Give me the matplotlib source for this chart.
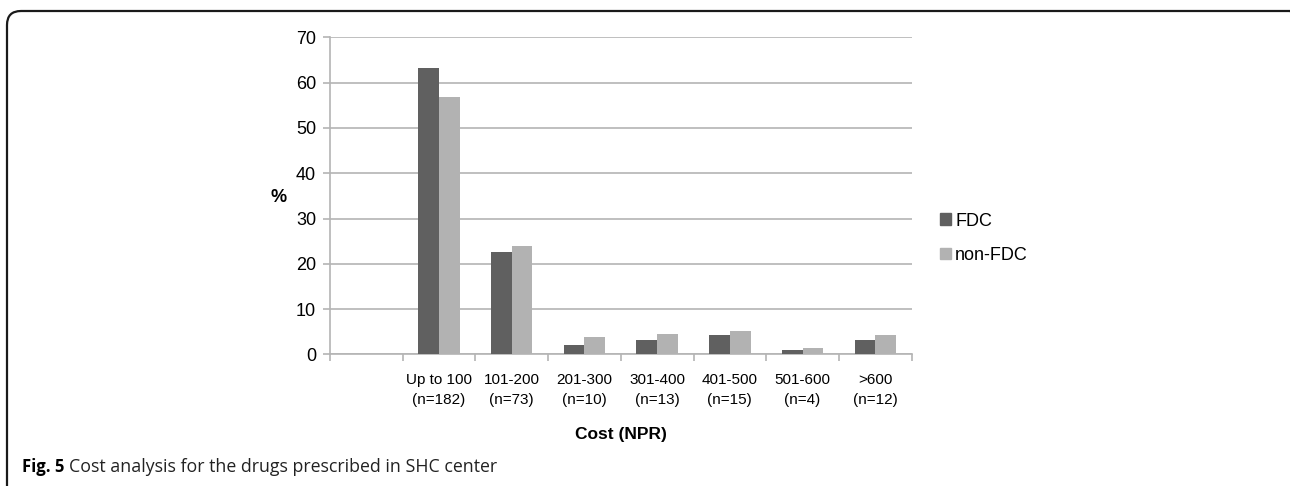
import matplotlib.pyplot as plt
from matplotlib.patches import FancyBboxPatch, Patch
import numpy as np

plt.rcParams['font.family'] = ['Liberation Sans', 'DejaVu Sans']

# cost bands (first slot is left blank on the axis)
categories = ["", "Up to 100\n(n=182)", "101-200\n(n=73)", "201-300\n(n=10)",
              "301-400\n(n=13)", "401-500\n(n=15)", "501-600\n(n=4)", ">600\n(n=12)"]
fdc = [0, 63.3, 22.6, 2.2, 3.3, 4.3, 1.0, 3.3]
non_fdc = [0, 56.9, 24.0, 3.8, 4.6, 5.1, 1.4, 4.2]

fig = plt.figure(figsize=(12.9, 4.86), dpi=100)
ax = fig.add_axes([0.2558, 0.2706, 0.4509, 0.6527])

x = np.arange(len(categories))
w = 0.285
grid_c = '#b4b4b4'
ax.bar(x[1:] - w / 2, fdc[1:], w, color='#606060', zorder=3)
ax.bar(x[1:] + w / 2, non_fdc[1:], w, color='#b2b2b2', zorder=3)

ax.set_xlim(-0.5, len(categories) - 0.5)
ax.set_ylim(0, 70)
ax.set_yticks(range(0, 71, 10))
ax.yaxis.grid(True, color=grid_c, linewidth=1.2, zorder=0)

ax.set_xticks(x)
ax.set_xticklabels(categories, fontsize=11, linespacing=1.6)
ax.set_xticks(np.arange(-0.5, len(categories)), minor=True)
ax.tick_params(axis='x', which='major', length=0, pad=13)
ax.tick_params(axis='x', which='minor', length=5, color=grid_c, width=1.2)
ax.tick_params(axis='y', length=5, color=grid_c, width=1.2, labelsize=13, pad=5)

for s in ['top', 'right']:
    ax.spines[s].set_visible(False)
for s in ['left', 'bottom']:
    ax.spines[s].set_color(grid_c)
    ax.spines[s].set_linewidth(1.2)

ax.set_ylabel('%', fontsize=13, fontweight='bold', rotation=0, va='center', ha='center')
ax.yaxis.set_label_coords(-0.089, 0.494)
ax.set_xlabel('Cost (NPR)', fontsize=12.5, fontweight='bold', labelpad=14)

handles = [Patch(color='#606060', label='FDC'), Patch(color='#b2b2b2', label='non-FDC')]
fig.legend(handles=handles, loc='center left', bbox_to_anchor=(0.716, 0.51),
           frameon=False, fontsize=13, handlelength=0.6, handleheight=0.6,
           handletextpad=0.25, labelspacing=0.95)

# rounded frame in inches so the corner stays circular; right and bottom run off the figure
frame = FancyBboxPatch((0.07, -1.0), 12.97, 5.75,
                       boxstyle='round,pad=0,rounding_size=0.14',
                       transform=fig.dpi_scale_trans, fill=False,
                       edgecolor='#1a1a1a', linewidth=1.6, clip_on=False)
fig.patches.append(frame)

fig.text(22 / 1290, 1 - 467 / 486, 'Fig. 5', fontsize=12, fontweight='bold',
         family=['Open Sans', 'DejaVu Sans'], va='center')
fig.text(69 / 1290, 1 - 467 / 486, 'Cost analysis for the drugs prescribed in SHC center',
         fontsize=12.8, family=['Open Sans', 'DejaVu Sans'], va='center', color='#222222')

fig.savefig('out.png', dpi=100)
